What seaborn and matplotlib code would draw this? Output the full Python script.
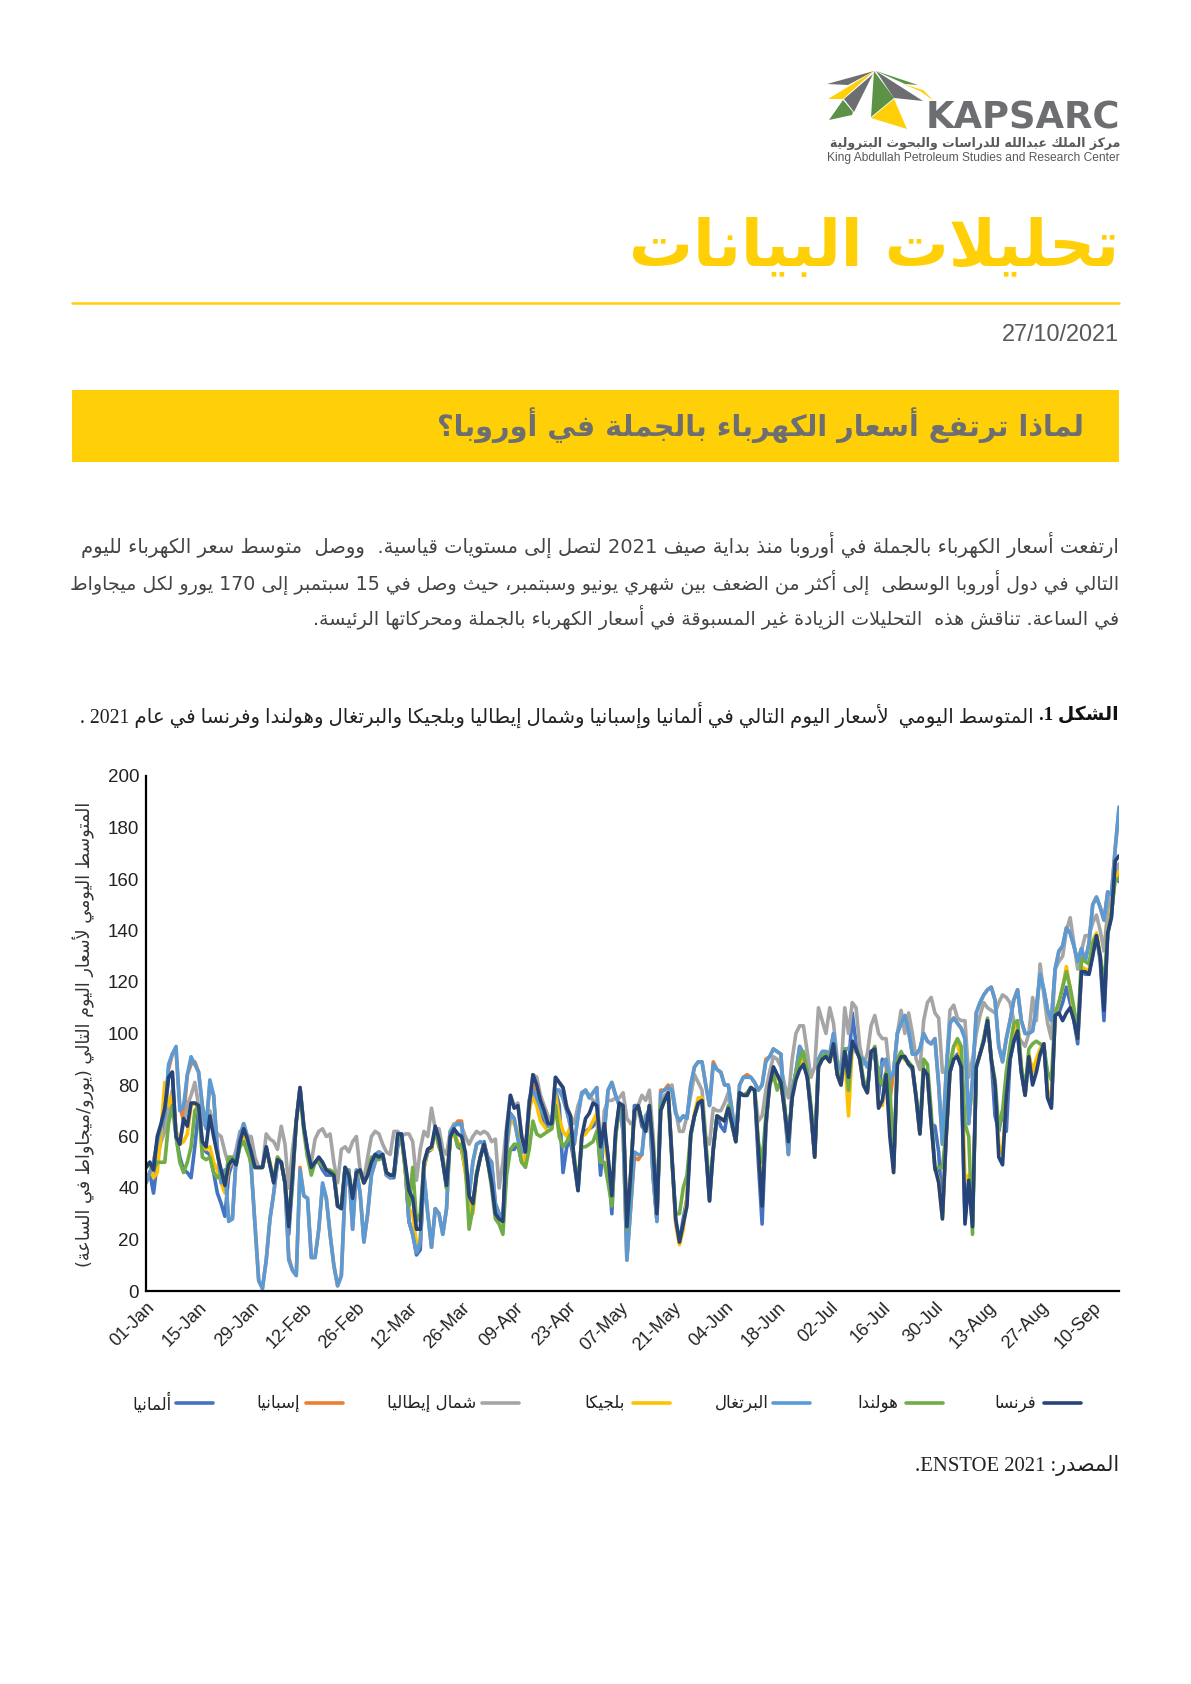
import re
import unicodedata
import matplotlib
matplotlib.use('Agg')
import matplotlib.pyplot as plt
from matplotlib.lines import Line2D
from matplotlib.patches import Polygon, Rectangle
import pandas as pd
import seaborn as sns

# ── Data (EUR/MWh, one row = 14 days) ──────────────────────────────────────────
germany = [
    42, 46, 38, 50, 60, 68, 83, 85, 60, 52, 47, 46, 44, 56,
    71, 56, 54, 53, 46, 38, 34, 29, 45, 50, 49, 57, 62, 58,
    53, 48, 48, 48, 56, 49, 42, 51, 50, 42, 22, 42, 66, 79,
    64, 54, 48, 50, 50, 47, 45, 45, 45, 33, 32, 48, 44, 35,
    45, 46, 42, 45, 51, 53, 54, 53, 45, 44, 44, 56, 60, 48,
    27, 22, 14, 16, 48, 54, 55, 63, 58, 50, 40, 60, 62, 56,
    55, 47, 36, 33, 45, 52, 58, 50, 42, 30, 27, 27, 52, 55,
    55, 57, 50, 52, 72, 78, 74, 70, 66, 64, 65, 78, 72, 46,
    56, 58, 50, 39, 60, 62, 63, 64, 68, 45, 62, 52, 30, 60,
    72, 71, 22, 44, 72, 72, 64, 62, 72, 45, 28, 70, 74, 77,
    52, 27, 19, 28, 36, 60, 68, 73, 74, 55, 35, 55, 68, 64,
    62, 71, 65, 58, 77, 76, 76, 79, 78, 50, 26, 63, 82, 87,
    84, 82, 70, 58, 76, 85, 92, 90, 84, 70, 52, 87, 90, 92,
    90, 96, 84, 80, 93, 86, 108, 96, 90, 80, 77, 93, 94, 76,
    90, 88, 74, 48, 88, 92, 91, 88, 86, 75, 61, 86, 84, 65,
    64, 54, 30, 60, 85, 90, 92, 87, 28, 43, 26, 87, 92, 97,
    105, 90, 68, 62, 70, 62, 90, 97, 100, 85, 76, 91, 85, 88,
    92, 96, 75, 72, 107, 108, 112, 118, 112, 105, 96, 124, 123, 123,
    131, 138, 128, 105, 139, 146, 163, 159]
spain = [
    42, 46, 50, 58, 64, 68, 86, 92, 93, 72, 66, 84, 88, 89,
    85, 72, 64, 80, 76, 55, 43, 47, 28, 28, 52, 60, 65, 60,
    48, 26, 4, 1, 12, 28, 38, 50, 50, 42, 13, 8, 6, 48,
    37, 36, 13, 13, 24, 41, 36, 22, 10, 2, 6, 40, 47, 24,
    47, 38, 19, 30, 45, 50, 54, 53, 45, 44, 46, 57, 61, 48,
    27, 22, 15, 19, 45, 30, 17, 32, 30, 22, 32, 62, 64, 66,
    66, 50, 37, 50, 57, 58, 57, 52, 50, 34, 30, 28, 55, 69,
    67, 59, 54, 54, 74, 80, 75, 71, 68, 64, 65, 78, 78, 75,
    70, 64, 57, 68, 77, 78, 75, 77, 79, 50, 62, 78, 81, 76,
    72, 62, 12, 32, 52, 51, 53, 68, 70, 44, 27, 78, 78, 80,
    78, 69, 66, 68, 67, 80, 87, 89, 89, 80, 72, 89, 86, 85,
    80, 80, 70, 59, 80, 83, 84, 83, 81, 78, 80, 90, 91, 94,
    93, 92, 70, 53, 78, 85, 95, 92, 85, 68, 53, 90, 93, 93,
    92, 100, 88, 86, 94, 94, 97, 93, 91, 90, 87, 91, 91, 84,
    88, 90, 74, 85, 100, 104, 107, 101, 92, 92, 94, 100, 97, 96,
    98, 80, 57, 85, 104, 106, 104, 102, 98, 65, 82, 108, 112, 115,
    117, 118, 113, 95, 89, 98, 105, 113, 117, 105, 100, 100, 101, 110,
    123, 117, 109, 105, 125, 132, 134, 141, 139, 134, 128, 133, 128, 135,
    150, 153, 149, 144, 155, 154, 172, 187]
italy = [
    48, 50, 47, 52, 58, 62, 70, 78, 62, 58, 65, 72, 76, 81,
    72, 65, 64, 70, 65, 61, 60, 54, 49, 50, 55, 62, 63, 60,
    60, 52, 48, 48, 61, 59, 58, 55, 64, 57, 40, 55, 66, 79,
    64, 52, 50, 59, 62, 63, 60, 61, 50, 42, 55, 56, 54, 58,
    60, 47, 43, 52, 60, 62, 61, 57, 54, 53, 62, 62, 60, 61,
    61, 58, 43, 55, 62, 60, 71, 63, 63, 55, 53, 62, 65, 65,
    64, 60, 57, 60, 62, 61, 62, 61, 58, 59, 40, 50, 64, 76,
    72, 73, 60, 55, 72, 84, 83, 76, 72, 68, 65, 83, 81, 79,
    72, 68, 65, 72, 76, 78, 76, 74, 73, 50, 70, 74, 74, 75,
    75, 77, 67, 65, 66, 72, 76, 74, 78, 60, 33, 70, 76, 77,
    80, 70, 62, 62, 68, 76, 84, 81, 78, 60, 57, 71, 70, 70,
    73, 77, 64, 60, 77, 76, 76, 79, 78, 66, 68, 78, 85, 91,
    90, 87, 80, 75, 90, 100, 103, 103, 93, 83, 87, 110, 105, 100,
    110, 104, 90, 85, 110, 100, 112, 110, 95, 88, 92, 103, 107, 100,
    98, 98, 84, 85, 100, 109, 100, 108, 100, 90, 86, 105, 112, 114,
    108, 106, 85, 85, 109, 111, 106, 105, 105, 83, 90, 100, 107, 112,
    110, 109, 108, 112, 115, 114, 112, 105, 99, 97, 95, 100, 114, 105,
    127, 115, 104, 98, 125, 128, 130, 140, 145, 135, 125, 132, 138, 138,
    143, 146, 140, 132, 148, 155, 160, 166]
belgium = [
    48, 49, 44, 46, 62, 81, 72, 76, 62, 57, 58, 61, 72, 73,
    71, 57, 55, 56, 50, 47, 42, 38, 48, 51, 50, 58, 61, 57,
    52, 48, 48, 48, 55, 50, 42, 52, 50, 42, 25, 45, 66, 78,
    63, 54, 47, 50, 50, 49, 47, 46, 46, 33, 32, 47, 45, 36,
    45, 46, 42, 45, 50, 52, 53, 53, 46, 45, 45, 60, 60, 47,
    32, 30, 18, 20, 48, 55, 55, 63, 56, 52, 41, 59, 61, 58,
    56, 46, 35, 30, 45, 52, 57, 50, 42, 30, 27, 26, 55, 66,
    65, 62, 52, 50, 70, 76, 72, 66, 64, 62, 63, 77, 67, 62,
    60, 64, 50, 40, 60, 61, 63, 66, 69, 52, 58, 50, 36, 60,
    72, 71, 25, 45, 70, 72, 66, 62, 72, 55, 30, 70, 74, 77,
    52, 26, 18, 24, 36, 61, 69, 75, 75, 57, 36, 55, 68, 67,
    66, 71, 65, 58, 77, 76, 76, 79, 78, 56, 38, 65, 80, 85,
    83, 81, 70, 58, 75, 83, 88, 91, 84, 70, 52, 87, 90, 91,
    89, 96, 84, 80, 92, 68, 95, 94, 90, 80, 77, 93, 94, 72,
    72, 84, 75, 46, 88, 91, 90, 88, 87, 75, 61, 86, 84, 65,
    48, 43, 28, 60, 85, 95, 96, 90, 43, 45, 27, 87, 92, 98,
    105, 90, 80, 57, 53, 75, 93, 100, 104, 87, 76, 92, 85, 90,
    94, 96, 78, 74, 107, 112, 118, 126, 117, 108, 98, 126, 125, 124,
    136, 139, 130, 115, 139, 148, 160, 163]
portugal = [
    42, 46, 50, 58, 64, 68, 88, 92, 95, 70, 72, 84, 91, 88,
    85, 72, 63, 82, 76, 55, 42, 47, 27, 28, 52, 60, 65, 60,
    48, 26, 4, 1, 12, 28, 38, 50, 50, 42, 12, 8, 6, 47,
    37, 36, 13, 13, 24, 42, 36, 22, 10, 2, 6, 40, 47, 24,
    47, 38, 19, 30, 45, 50, 54, 53, 45, 44, 46, 57, 61, 48,
    27, 22, 15, 19, 45, 30, 17, 32, 30, 22, 32, 62, 64, 65,
    65, 50, 37, 50, 57, 58, 57, 52, 50, 34, 30, 28, 55, 69,
    67, 59, 54, 54, 74, 78, 75, 71, 68, 64, 65, 78, 78, 75,
    70, 64, 57, 68, 77, 78, 75, 77, 79, 50, 62, 78, 81, 76,
    72, 62, 12, 32, 54, 53, 53, 68, 70, 44, 27, 77, 78, 79,
    78, 69, 66, 68, 67, 80, 87, 89, 89, 80, 72, 88, 86, 85,
    80, 80, 70, 59, 80, 83, 83, 83, 81, 78, 80, 89, 91, 94,
    93, 92, 70, 53, 78, 85, 95, 92, 85, 68, 53, 90, 93, 93,
    92, 100, 88, 86, 94, 94, 97, 93, 91, 90, 87, 91, 91, 84,
    88, 90, 82, 85, 100, 104, 107, 101, 92, 92, 94, 100, 97, 96,
    98, 80, 57, 85, 104, 106, 104, 102, 98, 65, 82, 108, 112, 115,
    117, 118, 113, 95, 89, 98, 105, 113, 117, 105, 100, 100, 101, 110,
    123, 117, 109, 105, 125, 132, 134, 141, 139, 134, 128, 133, 128, 135,
    150, 153, 149, 144, 155, 154, 172, 188]
netherlands = [
    48, 50, 47, 50, 50, 50, 65, 72, 60, 50, 46, 50, 56, 70,
    72, 52, 51, 52, 46, 44, 45, 42, 52, 52, 49, 56, 58, 54,
    50, 48, 48, 48, 55, 49, 43, 52, 50, 42, 28, 45, 66, 78,
    62, 52, 45, 50, 50, 49, 47, 47, 46, 33, 33, 48, 46, 37,
    45, 47, 42, 45, 52, 52, 51, 52, 46, 45, 45, 60, 60, 48,
    33, 48, 27, 30, 50, 55, 56, 62, 56, 52, 40, 60, 62, 56,
    57, 50, 24, 32, 46, 52, 57, 50, 40, 28, 26, 22, 45, 55,
    57, 57, 50, 48, 55, 66, 61, 60, 61, 62, 63, 72, 60, 56,
    58, 61, 52, 42, 56, 56, 57, 58, 62, 50, 50, 42, 33, 60,
    72, 70, 24, 45, 70, 72, 66, 62, 72, 55, 33, 72, 74, 76,
    50, 30, 30, 40, 45, 61, 68, 73, 74, 58, 40, 55, 68, 67,
    66, 72, 64, 58, 77, 76, 77, 79, 78, 58, 50, 68, 80, 84,
    78, 82, 72, 58, 76, 84, 90, 93, 85, 72, 54, 88, 91, 92,
    90, 96, 85, 82, 94, 78, 96, 94, 91, 82, 78, 92, 95, 83,
    80, 85, 80, 48, 90, 93, 90, 89, 87, 76, 62, 90, 88, 70,
    47, 48, 48, 62, 88, 95, 98, 95, 65, 60, 22, 87, 92, 98,
    106, 90, 82, 63, 70, 85, 95, 104, 105, 87, 78, 94, 96, 97,
    96, 95, 85, 82, 108, 112, 118, 124, 118, 110, 100, 129, 128, 127,
    135, 138, 130, 118, 139, 147, 160, 160]
france = [
    48, 50, 47, 60, 65, 71, 83, 85, 60, 57, 67, 64, 73, 73,
    72, 58, 56, 68, 60, 53, 47, 41, 49, 51, 49, 58, 63, 59,
    54, 48, 48, 48, 56, 49, 42, 51, 50, 42, 25, 45, 66, 79,
    64, 55, 48, 50, 52, 50, 47, 46, 45, 33, 32, 48, 45, 36,
    46, 47, 42, 45, 50, 53, 52, 53, 46, 45, 45, 61, 61, 50,
    39, 36, 24, 24, 50, 55, 56, 64, 59, 50, 41, 60, 63, 61,
    60, 54, 37, 34, 45, 52, 57, 50, 42, 30, 28, 27, 62, 76,
    71, 72, 60, 54, 72, 84, 80, 74, 70, 65, 65, 83, 81, 79,
    71, 68, 50, 39, 60, 67, 69, 73, 72, 56, 65, 52, 37, 62,
    73, 72, 25, 45, 70, 72, 66, 62, 72, 55, 30, 70, 74, 77,
    52, 28, 19, 26, 33, 61, 68, 73, 74, 55, 35, 55, 68, 67,
    66, 71, 65, 58, 77, 76, 76, 79, 78, 55, 33, 65, 80, 87,
    84, 81, 70, 58, 75, 82, 86, 88, 83, 70, 52, 87, 90, 91,
    89, 96, 84, 80, 93, 83, 97, 94, 90, 80, 77, 93, 94, 71,
    74, 84, 60, 46, 88, 91, 91, 88, 87, 75, 61, 86, 84, 65,
    48, 42, 28, 60, 85, 90, 91, 87, 26, 43, 25, 87, 92, 97,
    105, 90, 80, 52, 49, 75, 90, 97, 101, 85, 76, 91, 80, 85,
    92, 96, 75, 71, 107, 108, 105, 108, 110, 105, 98, 124, 124, 123,
    130, 138, 130, 109, 139, 145, 167, 169]

countries = ['ألمانيا', 'إسبانيا', 'شمال إيطاليا', 'بلجيكا', 'البرتغال', 'هولندا', 'فرنسا']
colors = ['#4472C4', '#ED7D31', '#A5A5A5', '#FFC000', '#5B9BD5', '#70AD47', '#264478']
yticks = [0, 20, 40, 60, 80, 100, 120, 140, 160, 180, 200]

title = 'تحليلات البيانات'
heading = 'لماذا ترتفع أسعار الكهرباء بالجملة في أوروبا؟'
para = [
    'ارتفعت أسعار الكهرباء بالجملة في أوروبا منذ بداية صيف 2021 لتصل إلى مستويات قياسية.  ووصل  متوسط سعر الكهرباء لليوم',
    'التالي في دول أوروبا الوسطى  إلى أكثر من الضعف بين شهري يونيو وسبتمبر، حيث وصل في 15 سبتمبر إلى 170 يورو لكل ميجاواط',
    'في الساعة. تناقش هذه  التحليلات الزيادة غير المسبوقة في أسعار الكهرباء بالجملة ومحركاتها الرئيسة.',
]
caption_bold = 'الشكل 1.'
caption = 'المتوسط اليومي  لأسعار اليوم التالي في ألمانيا وإسبانيا وشمال إيطاليا وبلجيكا والبرتغال وهولندا وفرنسا في عام 2021 .'
ylabel = 'المتوسط اليومي لأسعار اليوم التالي (يورو/ميجاواط في الساعة)'
source = 'المصدر: ENSTOE 2021.'
logo_ar = 'مركز الملك عبدالله للدراسات والبحوث البترولية'
logo_en = 'King Abdullah Petroleum Studies and Research Center'


# ── Arabic shaping: matplotlib draws glyphs left to right with no joining ──────
def form(c, kind):
    try:
        return unicodedata.lookup(unicodedata.name(c) + ' ' + kind + ' FORM')
    except KeyError:
        return c


def is_ar(c):
    return '\u0621' <= c <= '\u064A'


def joins_next(c):
    return is_ar(c) and form(c, 'INITIAL') != c


def shape(s):
    out = []
    i = 0
    while i < len(s):
        c = s[i]
        if not is_ar(c):
            out.append(c)
            i += 1
            continue
        prev_j = i > 0 and joins_next(s[i - 1])
        nxt = s[i + 1] if i + 1 < len(s) else ''
        if c == 'ل' and nxt in ('ا', 'أ', 'إ'):
            tail = {'ا': '', 'أ': ' WITH HAMZA ABOVE', 'إ': ' WITH HAMZA BELOW'}[nxt]
            kind = 'FINAL' if prev_j else 'ISOLATED'
            out.append(unicodedata.lookup('ARABIC LIGATURE LAM WITH ALEF' + tail + ' ' + kind + ' FORM'))
            i += 2
            continue
        next_j = is_ar(nxt) and form(nxt, 'FINAL') != nxt
        if prev_j and next_j and joins_next(c):
            out.append(form(c, 'MEDIAL'))
        elif prev_j:
            out.append(form(c, 'FINAL'))
        elif next_j and joins_next(c):
            out.append(form(c, 'INITIAL'))
        else:
            out.append(form(c, 'ISOLATED'))
        i += 1
    vis = ''.join(out)[::-1]
    vis = vis.translate(str.maketrans('()', ')('))
    return re.sub(r'[0-9A-Za-z][0-9A-Za-z/ .]*[0-9A-Za-z]|[0-9A-Za-z]', lambda m: m.group(0)[::-1], vis)


# ── Table ──────────────────────────────────────────────────────────────────────
dates = pd.date_range('2021-01-01', periods=len(france))
series = [germany, spain, italy, belgium, portugal, netherlands, france]
df = pd.DataFrame({'date': dates})
for name, values in zip(countries, series):
    df[name] = values
long_df = df.melt(id_vars='date', var_name='country', value_name='price')

# ── Figure ─────────────────────────────────────────────────────────────────────
sns.set_theme(style='white')
plt.rcParams['font.family'] = ['Liberation Sans', 'DejaVu Sans']

W, H = 1191, 1684
fig = plt.figure(figsize=(W / 100, H / 100), dpi=100)
page = fig.add_axes([0, 0, 1, 1])
page.set_xlim(0, W)
page.set_ylim(H, 0)
page.axis('off')

AR = ['DejaVu Sans']
SERIF = ['Liberation Serif', 'DejaVu Sans']
renderer = fig.canvas.get_renderer()


def put(x, y, s, width=None, size=12, color='#444444', ha='right', family=AR, weight='normal', rotation=0):
    t = page.text(x, y, s, ha=ha, va='center', fontsize=size, color=color,
                  family=family, fontweight=weight, rotation=rotation)
    if width is not None:
        box = t.get_window_extent(renderer)
        now = box.height if rotation else box.width
        t.set_fontsize(size * width / now)
    return t


# logo
GREY = '#6D6E71'
YEL = '#FFD008'
GRN = '#5B9245'
shapes = [
    ([(874, 71), (827, 84), (848, 85)], GREY),
    ([(874, 71), (828, 99), (843, 99)], YEL),
    ([(873, 74), (844, 99), (854, 112)], GREY),
    ([(843, 100), (829, 120), (852, 115), (853, 112)], GRN),
    ([(874, 71), (871, 117), (894, 98)], GRN),
    ([(894, 99), (871, 118), (907, 129)], YEL),
    ([(876, 71), (894, 98), (923, 101)], GREY),
    ([(876, 71), (918, 85), (905, 84)], GRN),
    ([(903, 84), (923, 90), (934, 101), (920, 91)], YEL),
]
for pts, col in shapes:
    page.add_patch(Polygon(pts, closed=True, facecolor=col, edgecolor='none'))
put(1120, 118, 'KAPSARC', width=194, color=GREY, family=['DejaVu Sans'], weight='bold')
put(1120, 144, shape(logo_ar), width=292, color='#58595B', weight='bold')
put(1120, 158, logo_en, width=292, color='#58595B', family=['Liberation Sans'])

# header
put(1119, 248, shape(title), width=490, color=YEL, weight='bold')
page.plot([72, 1119], [303, 303], color=YEL, lw=1.8)
put(1119, 335, '27/10/2021', width=118, color='#58595B', family=['Liberation Sans'])
page.add_patch(Rectangle((72, 390), 1047, 72, facecolor=YEL, edgecolor='none'))
put(1084, 425, shape(heading), width=649, color=GREY, weight='bold')

# body text
put(1119, 545, shape(para[0]), width=1031)
put(1119, 582, shape(para[1]), width=1045)
put(1119, 618, shape(para[2]), width=800)
put(1119, 715, shape(caption_bold), width=79, color='#111111', family=SERIF, weight='bold')
put(1034, 715, shape(caption), width=946, color='#222222', family=SERIF)
put(1119, 1465, shape(source), width=203, color='#222222', family=SERIF)

# chart
ax = fig.add_axes([146 / W, 1 - 1291 / H, 973 / W, 515 / H])
ax.patch.set_alpha(0)
sns.lineplot(data=long_df, x='date', y='price', hue='country', hue_order=countries,
             palette=colors, linewidth=2.6, estimator=None, legend=False, ax=ax)
ax.set_xlim(dates[0], dates[-1])
ax.set_ylim(0, 200)
ax.set_yticks(yticks)
ax.set_xticks(dates[::14])
ax.set_xticklabels([d.strftime('%d-%b') for d in dates[::14]], rotation=45, ha='right',
                   rotation_mode='anchor', fontsize=13, color='#222222', family='Liberation Sans')
ax.tick_params(axis='y', labelsize=13.5, labelcolor='#222222', length=0, pad=5)
ax.tick_params(axis='x', length=0, pad=6)
ax.set_xlabel('')
ax.set_ylabel('')
sns.despine(ax=ax)
ax.spines['left'].set_color('black')
ax.spines['bottom'].set_color('black')
ax.spines['left'].set_linewidth(1.6)
ax.spines['bottom'].set_linewidth(1.6)

put(84, 1034, shape(ylabel), width=462, color='#333333', ha='center', rotation=90)

# legend, placed by hand because the gaps between entries are uneven
legend_lines = [176, 306, 482, 633, 773, 906, 1044]
legend_labels = [172, 300, 476, 625, 769, 898, 1036]
for name, col, lx, tx in zip(countries, colors, legend_lines, legend_labels):
    page.add_line(Line2D([lx, lx + 37], [1403, 1403], color=col, lw=2.6, solid_capstyle='round'))
    put(tx, 1403, shape(name), size=12, color='#222222')

fig.savefig('out.png', dpi=100)
print('Saved out.png')
